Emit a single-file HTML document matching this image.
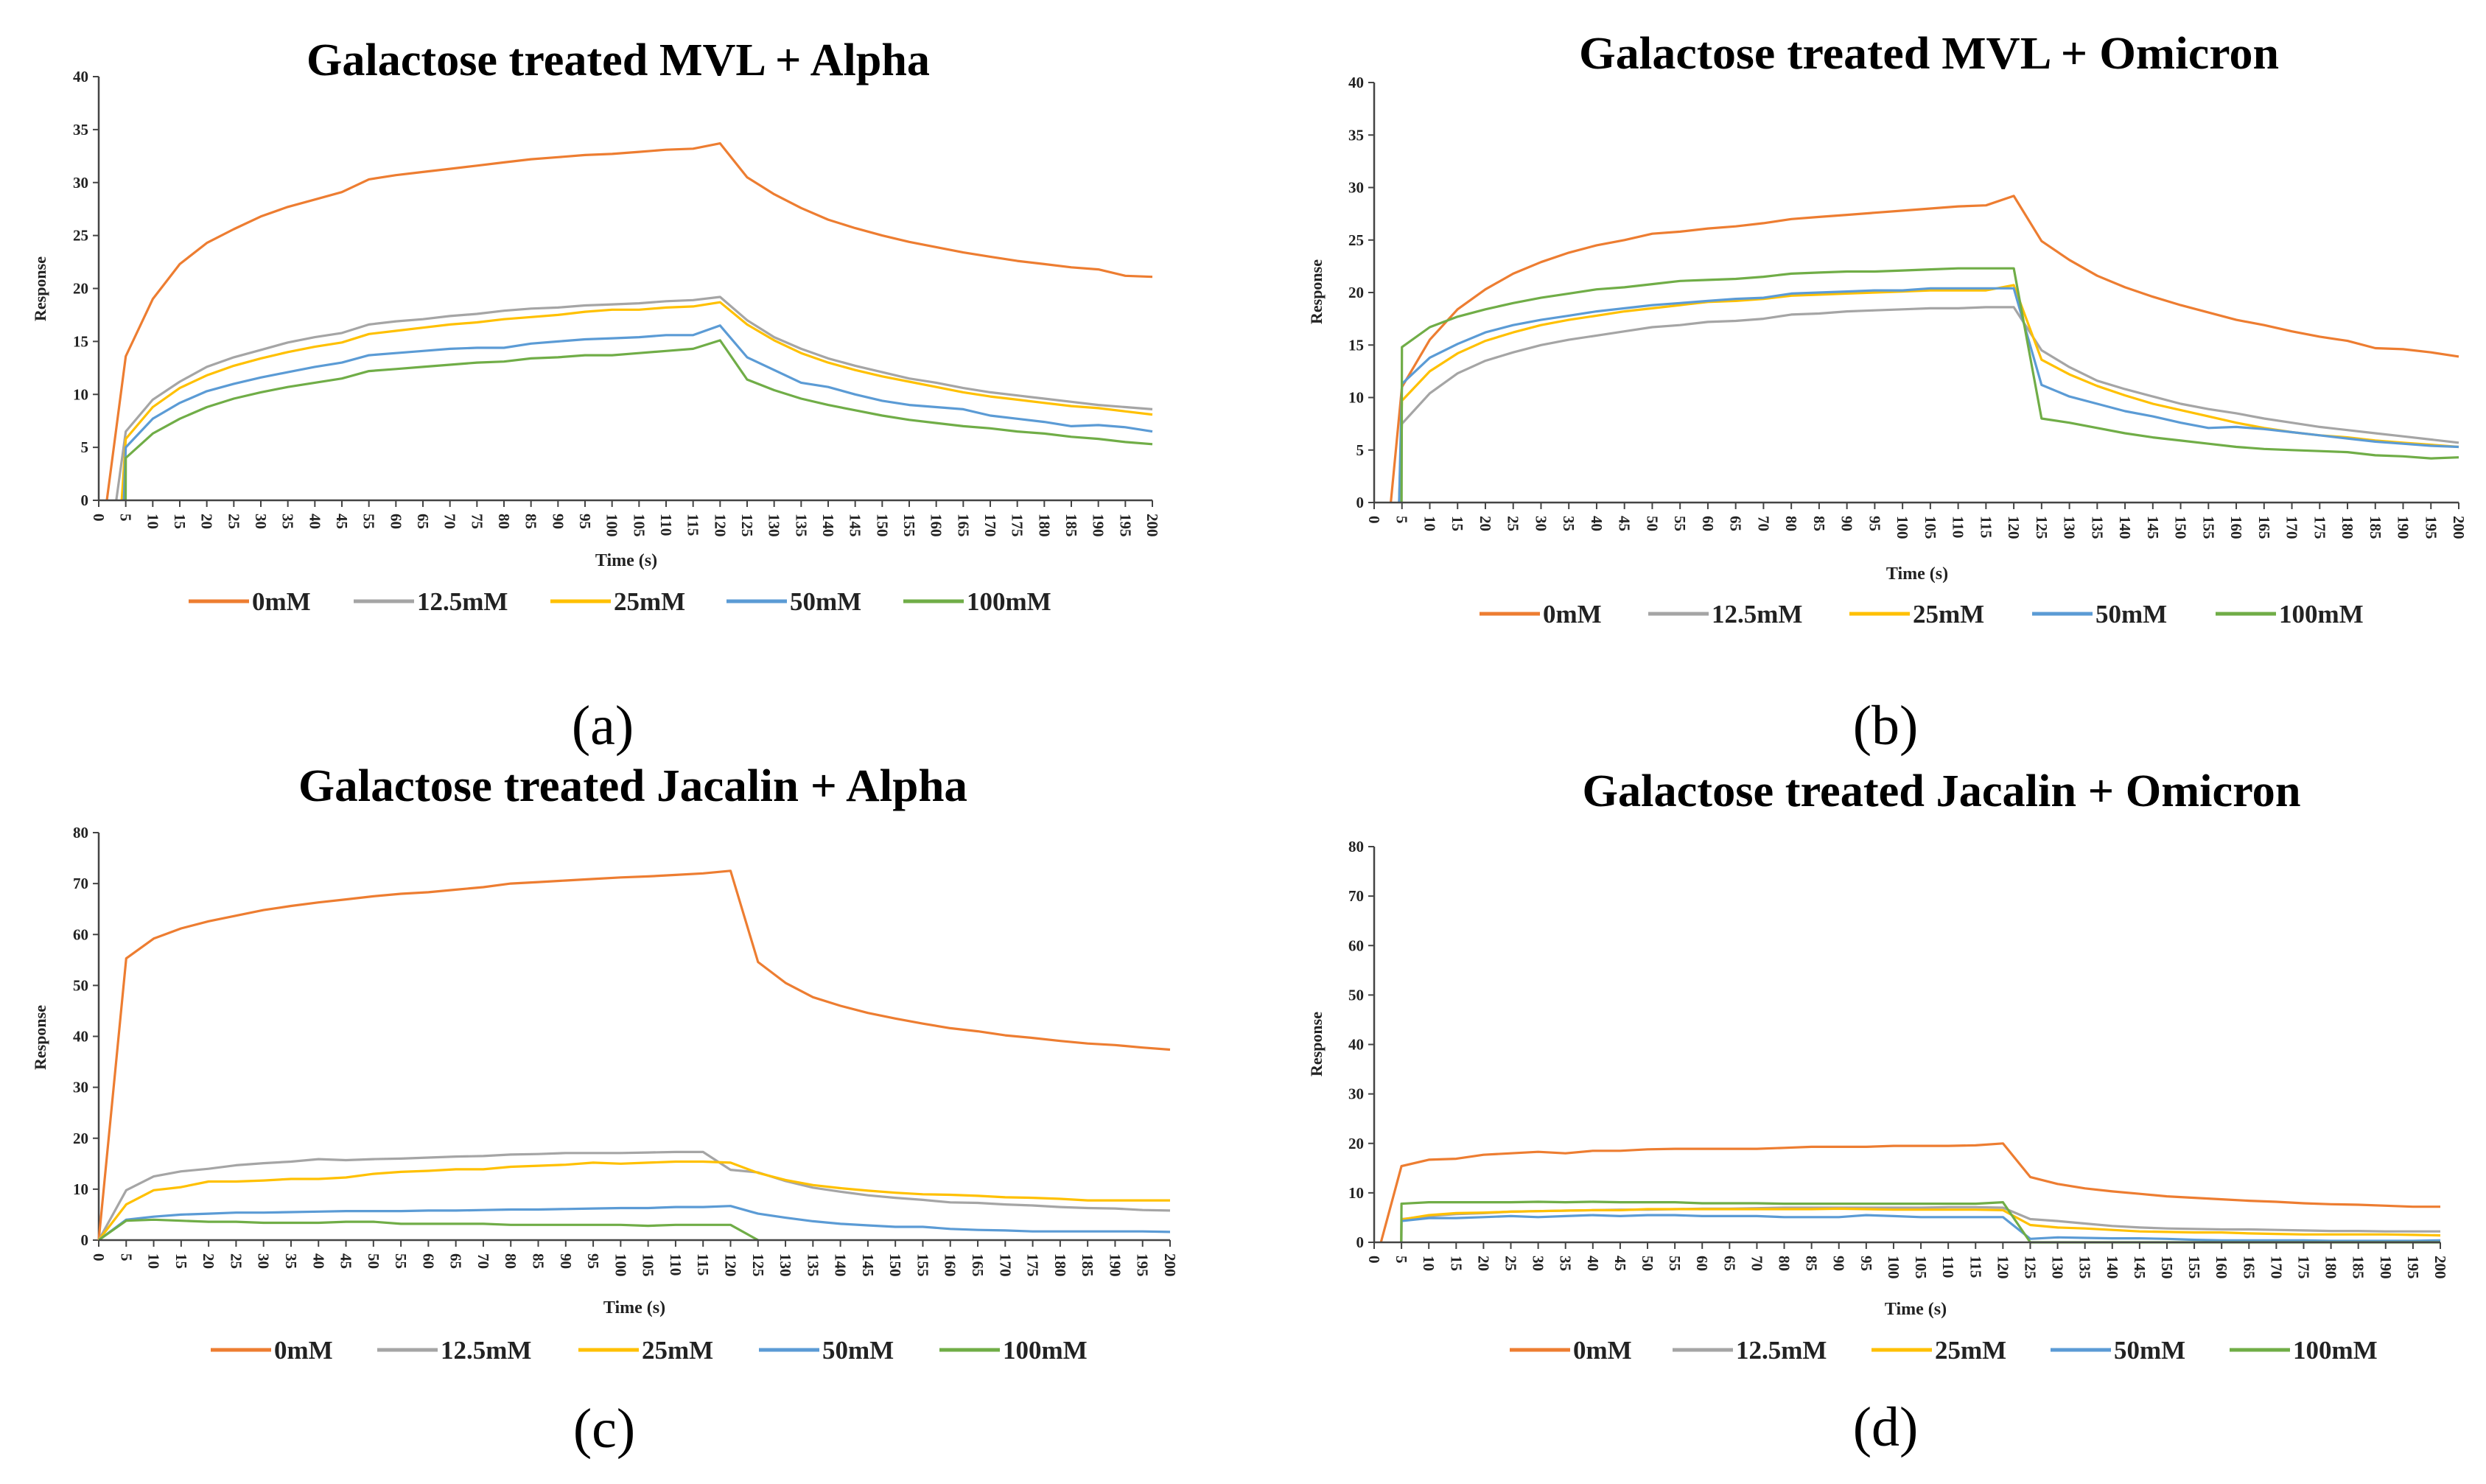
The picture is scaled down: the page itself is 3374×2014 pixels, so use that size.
<!DOCTYPE html>
<html><head><meta charset="utf-8">
<style>
html,body{margin:0;padding:0;background:#fff;width:3374px;height:2014px;overflow:hidden;}
svg{display:block;}
</style></head>
<body>
<svg id="fig" width="3374" height="2014" viewBox="0 0 3374 2014" xmlns="http://www.w3.org/2000/svg" font-family="'Liberation Serif', serif"></svg>
<script>
// Categories (note missing 50 in panel a, missing 75 in panels b-d)
const catsA = [0,5,10,15,20,25,30,35,40,45,55,60,65,70,75,80,85,90,95,100,105,110,115,120,125,130,135,140,145,150,155,160,165,170,175,180,185,190,195,200];
const catsB = [0,5,10,15,20,25,30,35,40,45,50,55,60,65,70,80,85,90,95,100,105,110,115,120,125,130,135,140,145,150,155,160,165,170,175,180,185,190,195,200];
const seriesNames = ["0mM","12.5mM","25mM","50mM","100mM"];
const yTicks40 = [0,5,10,15,20,25,30,35,40];
const yTicks80 = [0,10,20,30,40,50,60,70,80];

// Panel a
const a0 = [-5.8,13.6,19,22.3,24.3,25.6,26.8,27.7,28.4,29.1,30.3,30.7,31,31.3,31.6,31.9,32.2,32.4,32.6,32.7,32.9,33.1,33.2,33.7,30.5,28.9,27.6,26.5,25.7,25,24.4,23.9,23.4,23,22.6,22.3,22,21.8,21.2,21.1];
const a12 = [-12,6.5,9.5,11.2,12.6,13.5,14.2,14.9,15.4,15.8,16.6,16.9,17.1,17.4,17.6,17.9,18.1,18.2,18.4,18.5,18.6,18.8,18.9,19.2,17,15.4,14.3,13.4,12.7,12.1,11.5,11.1,10.6,10.2,9.9,9.6,9.3,9.0,8.8,8.6];
const a25 = [-33,5.8,8.8,10.6,11.8,12.7,13.4,14.0,14.5,14.9,15.7,16.0,16.3,16.6,16.8,17.1,17.3,17.5,17.8,18.0,18.0,18.2,18.3,18.7,16.6,15.1,13.9,13.0,12.3,11.7,11.2,10.7,10.2,9.8,9.5,9.2,8.9,8.7,8.4,8.1];
const a50 = [-66,5.0,7.7,9.2,10.3,11.0,11.6,12.1,12.6,13.0,13.7,13.9,14.1,14.3,14.4,14.4,14.8,15.0,15.2,15.3,15.4,15.6,15.6,16.5,13.5,12.3,11.1,10.7,10.0,9.4,9.0,8.8,8.6,8.0,7.7,7.4,7.0,7.1,6.9,6.5];
const a100 = [-1000,4.0,6.3,7.7,8.8,9.6,10.2,10.7,11.1,11.5,12.2,12.4,12.6,12.8,13.0,13.1,13.4,13.5,13.7,13.7,13.9,14.1,14.3,15.1,11.4,10.4,9.6,9.0,8.5,8.0,7.6,7.3,7.0,6.8,6.5,6.3,6.0,5.8,5.5,5.3];
// Panel b
const b0 = [-16.5,11,15.5,18.4,20.3,21.8,22.9,23.8,24.5,25,25.6,25.8,26.1,26.3,26.6,27.0,27.2,27.4,27.6,27.8,28.0,28.2,28.3,29.2,24.9,23.1,21.6,20.5,19.6,18.8,18.1,17.4,16.9,16.3,15.8,15.4,14.7,14.6,14.3,13.9];
const b12 = [-67,7.5,10.4,12.3,13.5,14.3,15.0,15.5,15.9,16.3,16.7,16.9,17.2,17.3,17.5,17.9,18.0,18.2,18.3,18.4,18.5,18.5,18.6,18.6,14.5,12.9,11.6,10.8,10.1,9.4,8.9,8.5,8.0,7.6,7.2,6.9,6.6,6.3,6.0,5.7];
const b25 = [-87,9.7,12.5,14.2,15.4,16.2,16.9,17.4,17.8,18.2,18.5,18.8,19.1,19.2,19.4,19.7,19.8,19.9,20.0,20.1,20.2,20.2,20.2,20.7,13.6,12.2,11.1,10.2,9.4,8.8,8.2,7.6,7.1,6.7,6.4,6.2,5.9,5.7,5.5,5.3];
const b50 = [-100,11.3,13.8,15.1,16.2,16.9,17.4,17.8,18.2,18.5,18.8,19.0,19.2,19.4,19.5,19.9,20.0,20.1,20.2,20.2,20.4,20.4,20.4,20.4,11.2,10.1,9.4,8.7,8.2,7.6,7.1,7.2,7.0,6.7,6.4,6.1,5.8,5.6,5.4,5.3];
const b100 = [-1000,14.8,16.7,17.7,18.4,19.0,19.5,19.9,20.3,20.5,20.8,21.1,21.2,21.3,21.5,21.8,21.9,22.0,22.0,22.1,22.2,22.3,22.3,22.3,8.0,7.6,7.1,6.6,6.2,5.9,5.6,5.3,5.1,5.0,4.9,4.8,4.5,4.4,4.2,4.3];
// Panel c
const c0 = [0,55.3,59.2,61.2,62.6,63.7,64.8,65.6,66.3,66.9,67.5,68,68.3,68.8,69.3,70.0,70.3,70.6,70.9,71.2,71.4,71.7,72.0,72.5,54.6,50.5,47.7,46,44.6,43.5,42.5,41.6,41,40.2,39.7,39.1,38.6,38.3,37.8,37.4];
const c12 = [0,9.8,12.5,13.5,14.0,14.7,15.1,15.4,15.9,15.7,15.9,16.0,16.2,16.4,16.5,16.8,16.9,17.1,17.1,17.1,17.2,17.3,17.3,13.8,13.3,11.6,10.3,9.5,8.8,8.3,7.9,7.4,7.3,7.0,6.8,6.5,6.3,6.2,5.9,5.8];
const c25 = [0,7.0,9.8,10.4,11.5,11.5,11.7,12.0,12.0,12.3,13.0,13.4,13.6,13.9,13.9,14.4,14.6,14.8,15.2,15.0,15.2,15.4,15.4,15.2,13.2,11.8,10.8,10.2,9.7,9.3,9.0,8.9,8.7,8.4,8.3,8.1,7.8,7.8,7.8,7.8];
const c50 = [0,4.0,4.6,5.0,5.2,5.4,5.4,5.5,5.6,5.7,5.7,5.7,5.8,5.8,5.9,6.0,6.0,6.1,6.2,6.3,6.3,6.5,6.5,6.7,5.2,4.4,3.7,3.2,2.9,2.6,2.6,2.2,2.0,1.9,1.7,1.7,1.7,1.7,1.7,1.6];
const c100 = [0,3.8,4.0,3.8,3.6,3.6,3.4,3.4,3.4,3.6,3.6,3.2,3.2,3.2,3.2,3.0,3.0,3.0,3.0,3.0,2.8,3.0,3.0,3.0,0,null,null,null,null,null,null,null,null,null,null,null,null,null,null,null];
// Panel d
const d0 = [-5.1,15.4,16.7,16.9,17.7,18.0,18.3,18.0,18.5,18.5,18.8,18.9,18.9,18.9,18.9,19.1,19.3,19.3,19.3,19.5,19.5,19.5,19.6,20.0,13.2,11.8,10.9,10.3,9.8,9.3,9.0,8.7,8.4,8.2,7.9,7.7,7.6,7.4,7.2,7.2];
const d12 = [-1000,4.7,5.3,5.7,5.9,6.2,6.3,6.4,6.5,6.6,6.6,6.7,6.8,6.8,6.9,7.0,7.0,7.0,7.0,7.0,7.0,7.1,7.1,7.0,4.7,4.3,3.8,3.3,3.0,2.8,2.7,2.6,2.6,2.5,2.4,2.3,2.3,2.2,2.2,2.2];
const d25 = [-1000,4.6,5.5,5.9,6.0,6.2,6.3,6.4,6.5,6.5,6.7,6.7,6.7,6.7,6.7,6.7,6.7,6.8,6.7,6.6,6.6,6.6,6.6,6.5,3.5,3.0,2.8,2.5,2.2,2.1,2.0,2.0,1.8,1.7,1.6,1.6,1.6,1.6,1.5,1.4];
const d50 = [-1000,4.3,4.9,4.9,5.1,5.3,5.1,5.3,5.5,5.3,5.5,5.5,5.3,5.3,5.3,5.1,5.1,5.1,5.5,5.3,5.1,5.1,5.1,5.1,0.7,1.0,0.9,0.8,0.8,0.7,0.5,0.4,0.4,0.4,0.4,0.3,0.3,0.3,0.3,0.4];
const d100 = [-1000,7.8,8.1,8.1,8.1,8.1,8.2,8.1,8.2,8.1,8.1,8.1,7.9,7.9,7.9,7.8,7.8,7.8,7.8,7.8,7.8,7.8,7.8,8.1,0,0,0,0,0,0,0,0,0,0,0,0,0,0,0,0];

const COLORS = ["#ED7D31","#A5A5A5","#FFC000","#5B9BD5","#70AD47"];
const NS = "http://www.w3.org/2000/svg";
const svg = document.getElementById("fig");

function mk(tag, parent, attrs) {
  const e = document.createElementNS(NS, tag);
  for (const k in attrs) e.setAttribute(k, attrs[k]);
  parent.appendChild(e);
  return e;
}

const panels = [
  {id:"a", title:"Galactose treated MVL + Alpha", cats:catsA, ticks:yTicks40, ymax:40, series:[a0,a12,a25,a50,a100],
   x0:134, x1:1564, yb:679, yt:104, tx:839, ty:102, tw:846, rx:62, ry:392, timeX:850, timeY:768, legY:828, leg:[256,480,747,986,1226], lab:"(a)", lx:818, ly:1010},
  {id:"b", title:"Galactose treated MVL + Omicron", cats:catsB, ticks:yTicks40, ymax:40, series:[b0,b12,b25,b50,b100],
   x0:1865, x1:3337, yb:682, yt:112, tx:2618, ty:93, tw:950, rx:1794, ry:396, timeX:2602, timeY:786, legY:845, leg:[2008,2237,2510,2758,3007], lab:"(b)", lx:2559, ly:1010},
  {id:"c", title:"Galactose treated Jacalin + Alpha", cats:catsB, ticks:yTicks80, ymax:80, series:[c0,c12,c25,c50,c100],
   x0:134, x1:1588, yb:1683, yt:1130, tx:859, ty:1087, tw:908, rx:62, ry:1408, timeX:861, timeY:1782, legY:1844, leg:[286,512,785,1030,1275], lab:"(c)", lx:820, ly:1964},
  {id:"d", title:"Galactose treated Jacalin + Omicron", cats:catsB, ticks:yTicks80, ymax:80, series:[d0,d12,d25,d50,d100],
   x0:1865, x1:3312, yb:1686, yt:1149, tx:2635, ty:1094, tw:975, rx:1794, ry:1417, timeX:2600, timeY:1784, legY:1844, leg:[2049,2270,2540,2783,3026], lab:"(d)", lx:2559, ly:1962}
];

panels.forEach(p => {
  const g = mk("g", svg, {});
  
  
  const n = p.cats.length;
  const xs = i => p.x0 + (p.x1 - p.x0) * i / (n - 1);
  const ys = v => p.yb - (p.yb - p.yt) * v / p.ymax;

  const t = mk("text", g, {x:p.tx, y:p.ty, "text-anchor":"middle", "font-size":62, "font-weight":"bold", fill:"#000", textLength:p.tw, lengthAdjust:"spacingAndGlyphs"});
  t.textContent = p.title;
  
  

  const ya = mk("line", g, {x1:p.x0, y1:p.yt, x2:p.x0, y2:p.yb, stroke:"#444", "stroke-width":2.5});
  
  
  p.ticks.forEach(v => {
    const y = ys(v);
    const tk = mk("line", g, {x1:p.x0 - 8, y1:y, x2:p.x0, y2:y, stroke:"#444", "stroke-width":2});
    
    
    const tl = mk("text", g, {x:p.x0 - 14, y:y + 7, "text-anchor":"end", "font-size":21, "font-weight":"bold", fill:"#222"});
    tl.textContent = v;
    
    
  });
  const rl = mk("text", g, {x:p.rx, y:p.ry, "text-anchor":"middle", "font-size":22, "font-weight":"bold", fill:"#222", transform:`rotate(-90 ${p.rx} ${p.ry})`});
  rl.textContent = "Response";
  
  

  p.series.forEach((arr, si) => {
    let d = "";
    let pen = false;
    arr.forEach((v, i) => {
      if (v === null) { pen = false; return; }
      if (v < 0) {
        // start the line where the segment to the next point crosses zero
        const nv = arr[i + 1];
        if (nv !== null && nv !== undefined && nv > 0) {
          const f = -v / (nv - v);
          const xi = p.x0 + (p.x1 - p.x0) * (i + f) / (n - 1);
          d += "M" + xi.toFixed(1) + "," + ys(0).toFixed(1);
          pen = true;
        }
        return;
      }
      d += (pen ? "L" : "M") + xs(i).toFixed(1) + "," + ys(v).toFixed(1);
      pen = true;
    });
    const path = mk("path", g, {d:d, fill:"none", stroke:COLORS[si], "stroke-width":3.2, "stroke-linejoin":"round"});
    
    
  });

  const xa = mk("line", g, {x1:p.x0, y1:p.yb, x2:p.x1, y2:p.yb, stroke:"#444", "stroke-width":2.5});
  
  
  p.cats.forEach((c, i) => {
    const x = xs(i);
    const tk = mk("line", g, {x1:x, y1:p.yb, x2:x, y2:p.yb + 9, stroke:"#444", "stroke-width":2});
    
    
    const ty = p.yb + 18;
    const tl = mk("text", g, {x:x, y:ty, "text-anchor":"start", "dominant-baseline":"central", "font-size":21, "font-weight":"bold", fill:"#222", transform:`rotate(90 ${x} ${ty})`});
    tl.textContent = c;
    
    
  });
  const xt = mk("text", g, {x:p.timeX, y:p.timeY, "text-anchor":"middle", "font-size":24, "font-weight":"bold", fill:"#222"});
  xt.textContent = "Time (s)";
  
  

  seriesNames.forEach((nm, si) => {
    const lg = mk("g", g, {});
    
    
    const lx = p.leg[si];
    mk("line", lg, {x1:lx, y1:p.legY - 12, x2:lx + 82, y2:p.legY - 12, stroke:COLORS[si], "stroke-width":5});
    const lt = mk("text", lg, {x:lx + 86, y:p.legY, "font-size":35, "font-weight":"bold", fill:"#222"});
    lt.textContent = nm;
  });

  const pl = mk("text", g, {x:p.lx, y:p.ly, "text-anchor":"middle", "font-size":76, fill:"#000"});
  pl.textContent = p.lab;
  
  
});
</script>
</body></html>
